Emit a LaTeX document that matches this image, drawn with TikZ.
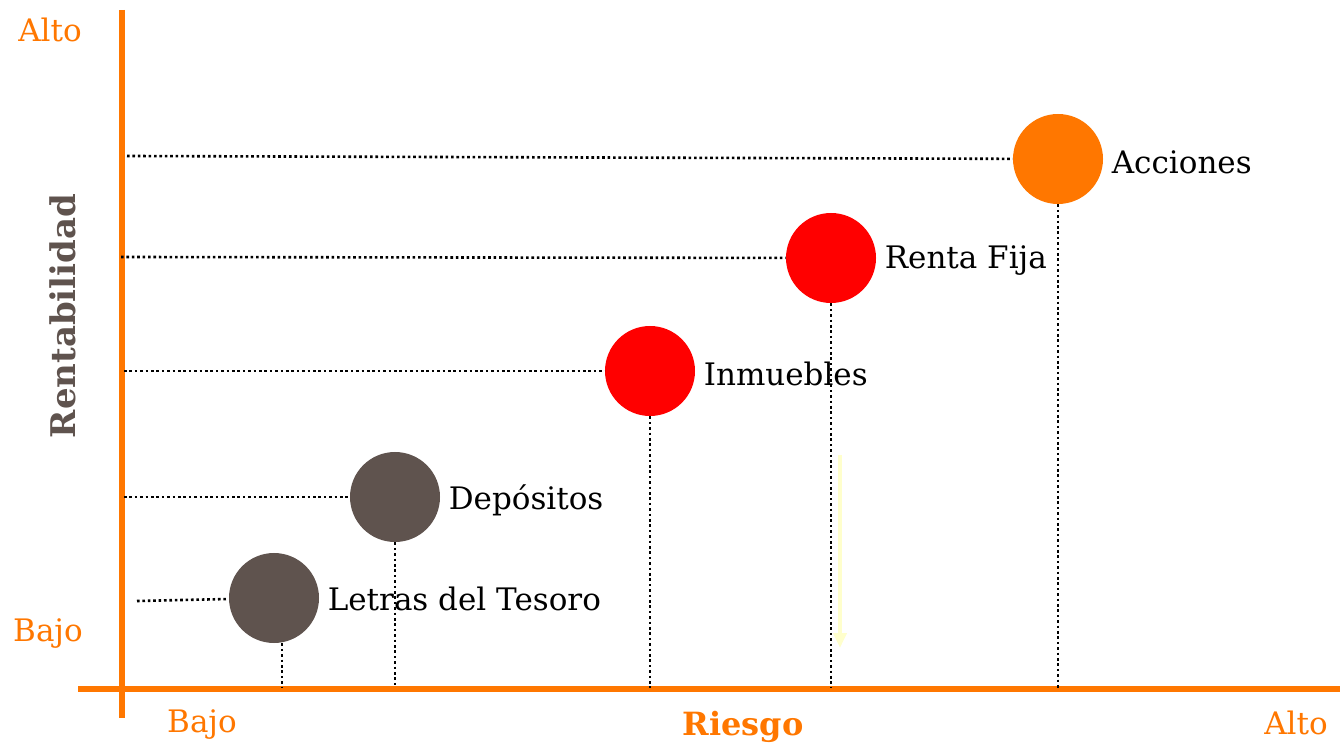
\documentclass[tikz,border=0pt]{standalone}
\usepackage{fontspec}
\setmainfont{DejaVu Serif}
\usepackage{tikz}
\usetikzlibrary{
  positioning,
  arrows.meta,
  arrows
}
\definecolor{naranja}{HTML}{FF7700}
\definecolor{marron}{HTML}{5F534E}
\definecolor{rojo}{HTML}{FF0000}
\definecolor{amarillo}{HTML}{FFFFCC}

\begin{document}
\begin{tikzpicture}[x=0.5pt,y=-0.5pt,node distance=3pt,>=latex',
    eje/.style={naranja,line width=2.6pt},
    punteado/.style={line width=1.3pt,dash pattern=on 1.3pt off 1.4pt},
    activo/.style={circle,minimum size=45pt,inner sep=0pt},
    etiqueta/.style={font=\fontsize{15.5}{18}\selectfont,inner sep=1pt,yshift=-1.5pt},
    escala/.style={naranja,font=\fontsize{15.5}{18}\selectfont}]
            \useasboundingbox (0,0) rectangle (1342,747);
            \draw[eje] (122,10) -- (122,718);
            \draw[eje] (78,689) -- (1340,689);
            \node[escala] (altoy) at (50,30) {Alto};
            \node[escala] (bajoy) at (48,634) {Bajo};
            \node[escala] (bajox) at (202,725) {Bajo};
            \node[escala] (altox) at (1296,723) {Alto};
            \node[naranja,font=\fontsize{16}{18}\selectfont\bfseries] (riesgo) at (743,727) {Riesgo};
            \node[marron,rotate=90,font=\fontsize{17}{18}\selectfont\bfseries] (rentab) at (63,316) {Rentabilidad};
            \node[activo,fill=naranja] (acc) at (1058,159) {};
            \node[activo,fill=rojo] (renta) at (831,258) {};
            \node[activo,fill=rojo] (inm) at (650,371) {};
            \node[activo,fill=marron] (dep) at (395,497) {};
            \node[activo,fill=marron] (letras) at (274,598) {};
            \node[etiqueta,right=of acc] (accl) {Acciones};
            \node[etiqueta,right=of renta] (rental) {Renta Fija};
            \node[etiqueta,right=of inm] (inml) {Inmuebles};
            \node[etiqueta,right=of dep] (depl) {Depósitos};
            \node[etiqueta,right=of letras,yshift=1pt] (letrasl) {Letras del Tesoro};
            \coordinate (yacc) at (127,156);
            \coordinate (yrenta) at (121,257);
            \coordinate (yinm) at (124,371);
            \coordinate (ydep) at (124,497);
            \coordinate (yletras) at (137,601);
            \coordinate (xacc) at (1058,688);
            \coordinate (xrenta) at (831,688);
            \coordinate (xinm) at (650,688);
            \coordinate (xdep) at (395,688);
            \coordinate (xletras) at (282,688);
            \draw[punteado] (yacc) -- (acc);
            \draw[punteado] (yrenta) -- (renta);
            \draw[punteado] (yinm) -- (inm);
            \draw[punteado] (ydep) -- (dep);
            \draw[punteado] (yletras) -- (letras);
            \draw[punteado] (acc) -- (xacc);
            \draw[punteado] (renta) -- (xrenta);
            \draw[punteado] (inm) -- (xinm);
            \draw[punteado] (dep) -- (xdep);
            \draw[punteado] (xletras |- letras.south) -- (xletras);
            \coordinate (flechaini) at (840,455);
            \coordinate (flechafin) at (840,648);
            \draw[amarillo,line width=2pt,-{Triangle[width=6.5pt,length=7.5pt]}] (flechaini) -- (flechafin);
        \end{tikzpicture}
\end{document}
